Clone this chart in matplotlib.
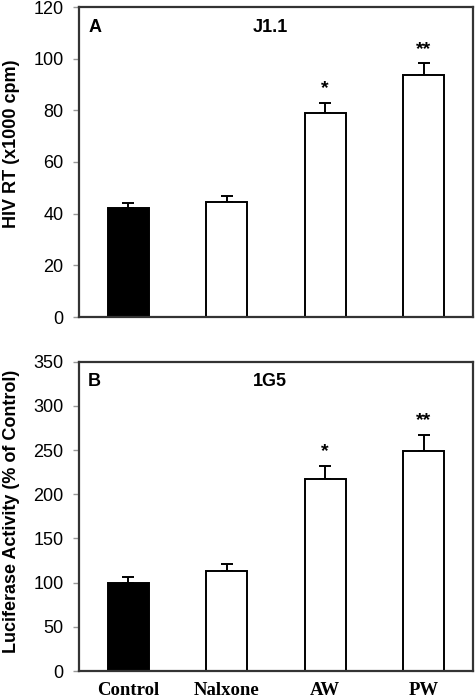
import matplotlib
matplotlib.use("Agg")
import matplotlib.pyplot as plt
import numpy as np

categories = ["Control", "Nalxone", "AW", "PW"]
hiv_rt = [42.3, 44.6, 79.1, 93.8]
hiv_rt_err = [1.8, 2.4, 3.9, 4.5]
luciferase = [100, 113, 217, 249]
luciferase_err = [6, 8.5, 15.5, 18.5]
significance = ["", "", "*", "**"]
bar_colors = ["black", "white", "white", "white"]

plt.rcParams['font.family'] = ['Liberation Sans', 'DejaVu Sans']

fig = plt.figure(figsize=(4.75, 7), dpi=100)
ax1 = fig.add_axes([79/475, 1-317/700, 394/475, 310/700])
ax2 = fig.add_axes([79/475, 1-671/700, 394/475, 309.3/700])

x = np.arange(len(categories))

def draw(ax, vals, errs, ylim, yticks, ylabel, letter, name, label_y):
    ax.bar(x, vals, width=0.42, color=bar_colors, edgecolor='black', linewidth=1.4, zorder=2)
    ax.errorbar(x, vals, yerr=[np.zeros(len(errs)), errs], fmt='none', ecolor='black',
                elinewidth=1.4, capsize=4, capthick=1.4, zorder=1)
    for xi, v, e, s in zip(x, vals, errs, significance):
        if s:
            ax.annotate(s, (xi, v + e), xytext=(0, 10), textcoords='offset points',
                        ha='center', va='center', fontsize=14, fontweight='bold')
    ax.set_xlim(-0.5, 3.5)
    ax.set_ylim(*ylim)
    ax.set_yticks(yticks)
    ax.tick_params(axis='y', direction='out', length=4.5, width=1, color='#999999',
                   labelsize=13, pad=6.5)
    for sp in ax.spines.values():
        sp.set_linewidth(1.6)
        sp.set_color('#333333')
    ax.set_ylabel(ylabel, fontsize=13, fontweight='bold')
    ax.yaxis.set_label_coords(-0.15, label_y)
    ax.text(0.023, 0.935, letter, transform=ax.transAxes, fontsize=13, fontweight='bold',
            ha='left', va='center')
    ax.text(0.4416, 0.935, name, transform=ax.transAxes, fontsize=13, fontweight='bold',
            ha='left', va='center')

draw(ax1, hiv_rt, hiv_rt_err, (0, 120), np.arange(0, 121, 20), "HIV RT (x1000 cpm)", "A", "J1.1", 0.56)
draw(ax2, luciferase, luciferase_err, (0, 350), np.arange(0, 351, 50),
     "Luciferase Activity (% of Control)", "B", "1G5", 0.517)

ax1.set_xticks([])
ax2.set_xticks(x)
ax2.set_xticklabels(categories, family=['Liberation Serif', 'DejaVu Serif'],
                    fontsize=13.5, fontweight='bold')
ax2.tick_params(axis='x', length=0, pad=8)

fig.savefig("out.png", dpi=100)
